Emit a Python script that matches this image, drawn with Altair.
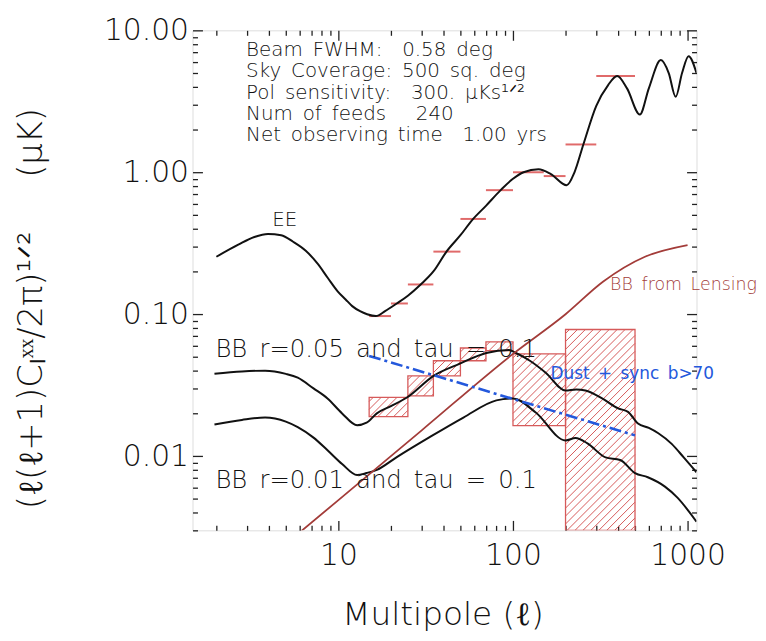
import altair as alt
import numpy as np
import pandas as pd

X_DOMAIN = [1.46, 1125.0]
Y_DOMAIN = [0.003, 10.0]
W, H = 508, 504
FONT = "DejaVu Sans"
FW = 300
TXT = "#111111"
BOXRED = "#d65a5a"
LENSRED = "#a33c39"
DUSTBLUE = "#2458dc"
NB = "\u00a0"
EN = "\u2002"

# EE model spectrum
ee_ell = [2.0, 2.67, 3.3, 3.95, 4.7, 5.5, 6.5, 7.6, 8.7, 9.9, 11.0, 12.0, 13.3, 14.6, 16.4,
          18.5, 21.6, 25.0, 29.6, 35.0, 41.6, 50.0, 58.5, 70.0, 85.0, 100.0, 115.0, 140.0,
          165.0, 203.0, 225.0, 253.0, 300.0, 350.0, 395.0, 450.0, 533.0, 600.0, 703.0,
          780.0, 855.0, 930.0, 1013.0, 1125.0]
ee_val = [0.254, 0.309, 0.35, 0.368, 0.36, 0.324, 0.28, 0.227, 0.18, 0.145, 0.127, 0.114,
          0.105, 0.1, 0.097, 0.105, 0.119, 0.135, 0.162, 0.2, 0.276, 0.36, 0.462, 0.58,
          0.748, 0.9, 1.0, 1.05, 0.97, 0.81, 1.0, 1.57, 2.94, 4.1, 4.77, 3.9, 2.55, 3.9,
          6.17, 5.0, 3.4, 5.0, 6.58, 5.0]

# BB r=0.05
bb05_ell = [1.95, 2.8, 3.8, 5.0, 5.85, 7.2, 8.66, 10.5, 12.8, 14.5, 16.6, 20.0, 24.7, 35.1,
            49.3, 70.3, 94.9, 104.0, 125.0, 154.0, 200.0, 230.0, 260.0, 324.0, 400.0, 456.0,
            520.0, 600.0, 680.0, 811.0, 950.0, 1125.0]
bb05_val = [0.038, 0.0395, 0.040, 0.038, 0.0357, 0.030, 0.0255, 0.020, 0.0165, 0.0172, 0.020,
            0.0225, 0.0259, 0.0368, 0.0447, 0.0533, 0.056, 0.0533, 0.047, 0.0387, 0.029,
            0.0295, 0.029, 0.0255, 0.0217, 0.0205, 0.017, 0.0158, 0.0145, 0.0122, 0.0098,
            0.0077]

# BB r=0.01
bb01_ell = [1.95, 2.8, 3.8, 5.0, 5.85, 7.2, 8.66, 10.5, 12.8, 14.5, 16.6, 21.6, 33.3, 52.0,
            80.3, 100.0, 135.0, 200.0, 228.0, 267.0, 339.0, 411.0, 500.0, 592.0, 742.0,
            875.0, 1125.0]
bb01_val = [0.0167, 0.018, 0.0187, 0.0175, 0.016, 0.0135, 0.011, 0.0088, 0.00736, 0.0076,
            0.008, 0.00984, 0.0136, 0.0187, 0.0247, 0.0255, 0.0203, 0.0129, 0.0134, 0.0123,
            0.0098, 0.0094, 0.0076, 0.0071, 0.0061, 0.0051, 0.00345]

# BB from lensing
lens_ell = [6.0, 10.0, 30.0, 100.0, 200.0, 329.0, 570.0, 1000.0]
lens_val = [0.0029, 0.0049, 0.0152, 0.0525, 0.1, 0.17, 0.254, 0.307]

# Dust + sync foreground
dust_ell = [15.0, 500.0]
dust_val = [0.0508, 0.014]

# EE band-power error markers
eeb_lo = [15, 20, 25, 35, 50, 70, 100, 150, 200, 300]
eeb_hi = [20, 25, 35, 50, 70, 100, 150, 200, 300, 500]
eeb_val = [0.097, 0.119, 0.162, 0.276, 0.469, 0.748, 1.0, 0.94, 1.57, 4.77]

# BB error boxes
box_lo = [15, 25, 35, 50, 70, 100, 200]
box_hi = [25, 35, 50, 70, 100, 200, 500]
box_vlo = [0.0190, 0.0266, 0.0368, 0.0470, 0.0553, 0.0164, 0.003]
box_vhi = [0.0259, 0.0368, 0.0470, 0.0578, 0.0639, 0.0525, 0.078]

# annotation text
info_lines = ["Beam FWHM:  0.58 deg", "Sky Coverage: 500 sq. deg",
              "Pol sensitivity:  300. μKs¹ᐟ²", "Num of feeds   240",
              "Net observing time  1.00 yrs"]
info_ell = [2.96, 2.96, 2.96, 2.96, 2.96]
info_val = [7.25, 5.13, 3.63, 2.565, 1.815]

bb_labels = ["BB r=0.05 and tau = 0.1", "BB r=0.01 and tau = 0.1"]
bb_lab_ell = [1.975, 1.975]
bb_lab_val = [0.056, 0.00668]

ee_label, ee_lab_ell, ee_lab_val = "EE", 4.93, 0.46
lens_label, lens_lab_ell, lens_lab_val = "BB from Lensing", 360.0, 0.160
dust_label, dust_lab_ell, dust_lab_val = "Dust + sync b>70", 164.0, 0.038

x_major = [10, 100, 1000]
x_minor = [k * d for d in (1, 10, 100) for k in range(2, 10)]
y_major = [0.01, 0.1, 1.0, 10.0]
y_minor = [round(k * d, 4) for d in (0.001, 0.01, 0.1, 1.0) for k in range(2, 10)
           if k * d >= 0.003]


def wide(s):
    # keep the wide spacing of the original vector font (SVG collapses plain spaces)
    return s.replace(" ", EN)


# ---------- hatch lines inside BB boxes (45 degrees on screen) ----------
lx0, lx1 = np.log10(X_DOMAIN)
ly0, ly1 = np.log10(Y_DOMAIN)
def to_px(l): return W * (np.log10(l) - lx0) / (lx1 - lx0)
def to_py(v): return H * (np.log10(v) - ly0) / (ly1 - ly0)
def from_px(p): return 10 ** (lx0 + p / W * (lx1 - lx0))
def from_py(p): return 10 ** (ly0 + p / H * (ly1 - ly0))

SP = 8.0
hatch = []
for lo, hi, vlo, vhi in zip(box_lo, box_hi, box_vlo, box_vhi):
    x0, x1, y0, y1 = to_px(lo), to_px(hi), to_py(vlo), to_py(vhi)
    c = x0 - y1 + SP * 0.5
    while c < x1 - y0:
        xs = max(x0, y0 + c); xe = min(x1, y1 + c)
        if xe > xs:
            hatch.append({"a": from_px(xs), "b": from_px(xe),
                          "c": from_py(xs - c), "d": from_py(xe - c)})
        c += SP
hatch_df = pd.DataFrame(hatch)

xs_ = alt.Scale(type="log", domain=X_DOMAIN, nice=False)
ys_ = alt.Scale(type="log", domain=Y_DOMAIN, nice=False)

def axis(orient, values, size, labels=False, **kw):
    return alt.Axis(orient=orient, values=values, tickSize=size, offset=-size, domain=False,
                    grid=False, labels=labels, tickColor="#222", tickWidth=1.3, **kw)

lab = dict(labelFont=FONT, labelFontSize=30, labelFontWeight=FW, labelColor=TXT,
           labelOverlap=False, labelFlush=False)

ax_xb = axis("bottom", x_major, 10, True, format="d", labelPadding=10,
             title="Multipole" + NB + "(ℓ)", titleFont=FONT, titleFontSize=33,
             titleFontWeight=FW, titleColor=TXT, titleX=W / 2 - 2, titleY=95,
             titleAlign="center", titleBaseline="middle", **lab)
ax_yl = axis("left", y_major, 10, True, format=".2f", labelPadding=4,
             title="(ℓ(ℓ+1)Cₗˣˣ/2π)¹ᐟ²" + NB * 5 + "(μK)", titleFont=FONT, titleFontSize=34,
             titleFontWeight=FW, titleColor=TXT, titleX=-172, titleY=280,
             titleAngle=-90, titleAlign="center", titleBaseline="middle", **lab)
ax_xb_m = axis("bottom", x_minor, 5)
ax_yl_m = axis("left", y_minor, 5)
ax_xt = axis("top", x_major, 10)
ax_yr = axis("right", y_major, 10)
ax_xt_m = axis("top", x_minor, 5)
ax_yr_m = axis("right", y_minor, 5)

def line(ell, val, xax, yax, **mk):
    df = pd.DataFrame({"l": ell, "v": val})
    return alt.Chart(df).mark_line(interpolate="monotone", clip=True, **mk).encode(
        x=alt.X("l:Q", scale=xs_, axis=xax, title=""),
        y=alt.Y("v:Q", scale=ys_, axis=yax, title=""))

ee = line(ee_ell, ee_val, ax_xb, ax_yl, color="#111", strokeWidth=2)
b5 = line(bb05_ell, bb05_val, ax_xb_m, ax_yl_m, color="#111", strokeWidth=2)
b1 = line(bb01_ell, bb01_val, ax_xt, ax_yr, color="#111", strokeWidth=2)
ln = line(lens_ell, lens_val, ax_xt_m, ax_yr_m, color=LENSRED, strokeWidth=1.8)
du = line(dust_ell, dust_val, None, None, color=DUSTBLUE, strokeWidth=2.6,
          strokeDash=[12, 4, 3, 4])

hatch_layer = alt.Chart(hatch_df).mark_rule(color=BOXRED, strokeWidth=1, clip=True).encode(
    x=alt.X("a:Q", scale=xs_, axis=None), x2="b:Q",
    y=alt.Y("c:Q", scale=ys_, axis=None), y2="d:Q")

boxes = alt.Chart(pd.DataFrame({"lo": box_lo, "hi": box_hi, "vlo": box_vlo, "vhi": box_vhi})
                  ).mark_rect(fillOpacity=0, stroke=BOXRED, strokeWidth=1.3, clip=True).encode(
    x=alt.X("lo:Q", scale=xs_, axis=None), x2="hi:Q",
    y=alt.Y("vlo:Q", scale=ys_, axis=None), y2="vhi:Q")

eeb = alt.Chart(pd.DataFrame({"lo": eeb_lo, "hi": eeb_hi, "v": eeb_val})).mark_rule(
    color="#e06a6a", strokeWidth=2).encode(
    x=alt.X("lo:Q", scale=xs_, axis=None), x2="hi:Q",
    y=alt.Y("v:Q", scale=ys_, axis=None))

def texts(labels, ell, val, size, color=TXT, align="left", weight=FW):
    df = pd.DataFrame({"t": [wide(s) for s in labels], "l": ell, "v": val})
    return alt.Chart(df).mark_text(font=FONT, fontSize=size, fontWeight=weight, color=color,
                                   align=align, baseline="middle").encode(
        x=alt.X("l:Q", scale=xs_, axis=None),
        y=alt.Y("v:Q", scale=ys_, axis=None), text="t:N")

t_info = texts(info_lines, info_ell, info_val, 20)
t_bb = texts(bb_labels, bb_lab_ell, bb_lab_val, 24.5)
t_ee = texts([ee_label], [ee_lab_ell], [ee_lab_val], 20, align="center")
t_lens = texts([lens_label], [lens_lab_ell], [lens_lab_val], 17.5, color=LENSRED)
t_dust = texts([dust_label], [dust_lab_ell], [dust_lab_val], 17, color=DUSTBLUE,
               weight="normal")

chart = alt.layer(hatch_layer, boxes, eeb, ee, b5, b1, ln, du,
                  t_info, t_bb, t_ee, t_lens, t_dust).resolve_axis(
    x="independent", y="independent").properties(
    width=W, height=H, autosize=alt.AutoSizeParams(type="none"),
    padding={"left": 186, "top": 20, "right": 62, "bottom": 105}).configure_view(
    stroke="#222", strokeWidth=1.8).configure(background="white")

chart.save("out.html", embed_options={"renderer": "svg", "actions": False})
